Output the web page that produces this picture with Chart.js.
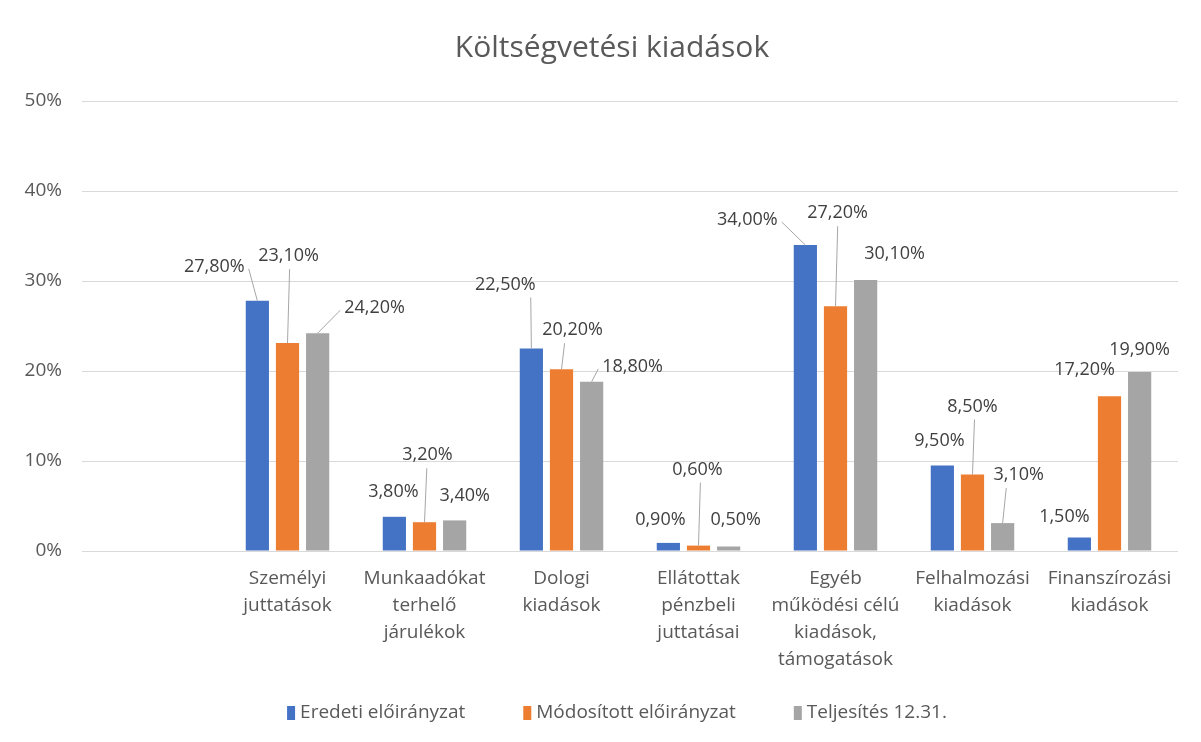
<!DOCTYPE html>
<html>
<head>
<meta charset="utf-8">
<script src="https://cdn.jsdelivr.net/npm/chart.js@4"></script>
<style>
  html, body { margin: 0; padding: 0; background: #fff; }
  #wrap { width: 1201px; height: 742px; }
</style>
</head>
<body>
<div id="wrap"><canvas id="chart" width="1201" height="742"></canvas></div>
<script>
// categories (first slot is empty in the original)
const categories = [
  [''],
  ['Személyi', 'juttatások'],
  ['Munkaadókat', 'terhelő', 'járulékok'],
  ['Dologi', 'kiadások'],
  ['Ellátottak', 'pénzbeli', 'juttatásai'],
  ['Egyéb', 'működési célú', 'kiadások,', 'támogatások'],
  ['Felhalmozási', 'kiadások'],
  ['Finanszírozási', 'kiadások']
];
const seriesNames = ['Eredeti előirányzat', 'Módosított előirányzat', 'Teljesítés 12.31.'];
const eredeti   = [null, 27.8, 3.8, 22.5, 0.9, 34.0, 9.5, 1.5];
const modositott = [null, 23.1, 3.2, 20.2, 0.6, 27.2, 8.5, 17.2];
const teljesites = [null, 24.2, 3.4, 18.8, 0.5, 30.1, 3.1, 19.9];
const yTicks = [0, 10, 20, 30, 40, 50];
const chartTitle = 'Költségvetési kiadások';

const colors = ['#4472C4', '#ED7D31', '#A5A5A5'];

// label placement relative to bar top (pixels), like the moved labels in the original
const labelOffsets = [
  [null, [-43, -34], [-1, -25], [-26, -64], [-8, -23], [-58, -25], [-3, -25], [-15, -21]],
  [null, [1, -87], [3, -67], [11, -39], [-1, -76], [2, -93], [0, -68], [-25, -26]],
  [null, [57, -25], [10, -25], [41, -15], [7, -27], [29, -26], [16, -48], [0, -22]]
];

const FONT = '"Open Sans", sans-serif';

const barLabels = {
  id: 'barLabels',
  afterDatasetsDraw(chart) {
    const ctx = chart.ctx;
    ctx.save();
    ctx.font = '18px ' + FONT;
    ctx.textAlign = 'center';
    ctx.textBaseline = 'middle';
    chart.data.datasets.forEach((ds, di) => {
      const meta = chart.getDatasetMeta(di);
      meta.data.forEach((bar, i) => {
        const v = ds.data[i];
        if (v == null) return;
        const off = labelOffsets[di][i];
        const lx = bar.x + off[0];
        const ly = bar.y + off[1];
        const txt = v.toFixed(2).replace('.', ',') + '%';
        const w = ctx.measureText(txt).width;
        const far = Math.abs(off[1]) > 32 || Math.abs(off[0]) > 32;
        if (far) {
          let sx, sy;
          if (bar.x > lx - w / 2 && bar.x < lx + w / 2) {
            sx = bar.x + (lx - bar.x) * 0.1 + 2;
            sy = ly + 13;
          } else if (bar.x >= lx + w / 2) {
            sx = lx + w / 2 + 4;
            sy = ly + 2;
          } else {
            sx = lx - w / 2 - 4;
            sy = ly + 2;
          }
          ctx.strokeStyle = '#a6a6a6';
          ctx.lineWidth = 1;
          ctx.beginPath();
          ctx.moveTo(sx, sy);
          ctx.lineTo(bar.x, bar.y);
          ctx.stroke();
        }
        ctx.fillStyle = '#404040';
        ctx.fillText(txt, lx, ly);
      });
    });
    ctx.restore();
  }
};

// title and legend drawn by hand so their placement can follow the original
const titleAndLegend = {
  id: 'titleAndLegend',
  afterDraw(chart) {
    const ctx = chart.ctx;
    ctx.save();
    ctx.textBaseline = 'middle';
    ctx.fillStyle = '#595959';
    ctx.font = '30px ' + FONT;
    ctx.textAlign = 'center';
    ctx.fillText(chartTitle, 612, 48);

    ctx.textAlign = 'left';
    ctx.font = '19px ' + FONT;
    const boxW = 8, gap = 5, itemGap = 58, cy = 713;
    const widths = seriesNames.map(n => ctx.measureText(n).width);
    const total = widths.reduce((a, w) => a + boxW + gap + w, 0) + itemGap * (seriesNames.length - 1);
    let x = 617 - total / 2;
    seriesNames.forEach((n, k) => {
      ctx.fillStyle = colors[k];
      ctx.fillRect(x, cy - 7, boxW, 14);
      ctx.fillStyle = '#595959';
      ctx.fillText(n, x + boxW + gap, cy);
      x += boxW + gap + widths[k] + itemGap;
    });
    ctx.restore();
  }
};

new Chart(document.getElementById('chart'), {
  type: 'bar',
  data: {
    labels: categories,
    datasets: seriesNames.map((name, k) => ({
      label: name,
      data: [eredeti, modositott, teljesites][k],
      backgroundColor: colors[k],
      categoryPercentage: 0.66,
      barPercentage: 0.77
    }))
  },
  options: {
    responsive: false,
    animation: false,
    layout: { padding: { left: 0, right: 23, top: 101, bottom: 66 } },
    plugins: {
      title: { display: false },
      legend: { display: false },
      tooltip: { enabled: false }
    },
    scales: {
      x: {
        grid: { display: false, drawTicks: false },
        border: { display: false },
        ticks: {
          color: '#595959',
          font: { family: FONT, size: 19, lineHeight: 1.42 },
          padding: 14,
          maxRotation: 0,
          autoSkip: false
        },
        afterFit(scale) { scale.height = 125; }
      },
      y: {
        min: 0,
        max: 50,
        afterBuildTicks(scale) { scale.ticks = yTicks.map(v => ({ value: v })); },
        grid: { color: '#d9d9d9', drawTicks: false },
        border: { display: false },
        ticks: {
          color: '#595959',
          font: { family: FONT, size: 19 },
          padding: 20,
          callback: v => v + '%'
        },
        afterFit(scale) { scale.width = 82; }
      }
    }
  },
  plugins: [barLabels, titleAndLegend]
});
</script>
</body>
</html>
